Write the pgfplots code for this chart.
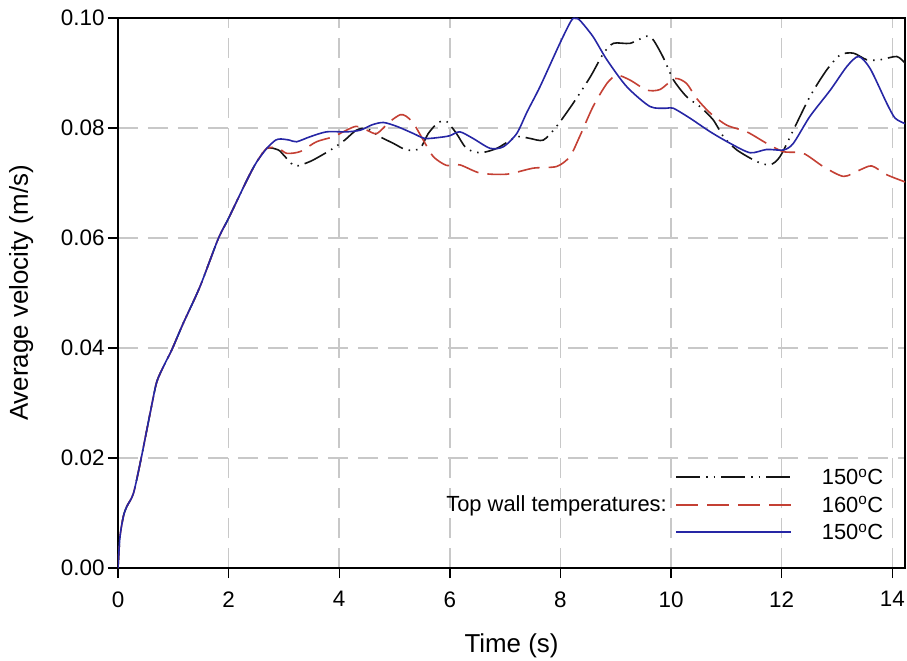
\documentclass[border=0pt]{standalone}
\usepackage{fontspec}
\setmainfont{Liberation Sans}
\usepackage{pgfplots}
\pgfplotsset{compat=1.18}

\definecolor{curveblue}{RGB}{38,38,165}
\definecolor{curvered}{RGB}{196,64,52}
\definecolor{curveblack}{RGB}{20,20,20}
\definecolor{gridgray}{RGB}{200,200,200}

\begin{document}
\begin{tikzpicture}
\begin{axis}[
  name=ax,
  scale only axis,
  width=787bp, height=550bp,
  xmin=0, xmax=14.23,
  ymin=0, ymax=0.1,
  xtick={0,2,4,6,8,10,12,14},
  ytick={0,0.02,0.04,0.06,0.08,0.1},
  scaled y ticks=false,
  /pgf/number format/assume math mode=true,
  yticklabel style={/pgf/number format/.cd, fixed, fixed zerofill, precision=2},
  tick label style={font=\fontsize{22.5}{26}\selectfont},
  xticklabel style={yshift=-10bp},
  tick pos=left,
  tick align=outside,
  major tick length=10bp,
  tick style={black, line width=1.4bp},
  axis line style={black, line width=1.4bp},
  grid=major,
  major grid style={gridgray, line width=1.5bp, dash pattern=on 20bp off 10bp},
  xlabel={Time (s)},
  ylabel={Average velocity (m/s)},
  label style={font=\fontsize{26}{30}\selectfont},
  xlabel style={at={(axis description cs:0.5,-0.1545)}, anchor=base},
  ylabel style={at={(axis description cs:-0.1144,0.5)}, anchor=base, rotate=0},
  legend image code/.code={\draw[#1] (0bp,0bp) -- (115bp,0bp);},
  legend cell align=left,
  legend style={draw=none, fill=none, inner sep=0pt,
    at={(rel axis cs:0.7078,0.1795)}, anchor=north west,
    font=\fontsize{22}{26}\selectfont,
    nodes={inner sep=0pt, text height=15.5bp, text depth=0bp},
    row sep=12bp, column sep=30bp},
]

% dash-dot-dot run
\addplot[curveblack, line width=1.6bp, smooth, tension=0.45,
  dash pattern=on 24bp off 6bp on 1.5bp off 6bp on 1.5bp off 6bp]
  coordinates {
  (0,0) (0.036,0.0057) (0.1,0.0095) (0.16,0.0112) (0.28,0.0136) (0.42,0.020)
  (0.58,0.0281) (0.7,0.0338) (0.85,0.0372) (0.97,0.0396) (1.18,0.0445)
  (1.48,0.0511) (1.81,0.0598) (2.0,0.0636) (2.33,0.0705) (2.5,0.0737) (2.69,0.0763)
  (2.9,0.076) (3.02,0.0748) (3.2,0.0731) (3.47,0.0739) (3.71,0.0752) (3.89,0.0763)
  (4.1,0.0778) (4.31,0.0796) (4.5,0.0799) (4.74,0.0784) (4.98,0.0772) (5.22,0.076)
  (5.46,0.0763) (5.61,0.079) (5.79,0.081) (5.94,0.0812) (6.12,0.079) (6.3,0.0763)
  (6.55,0.0755) (6.85,0.0763) (7.21,0.0784) (7.45,0.0781) (7.69,0.0778) (7.93,0.0803)
  (8.23,0.0845) (8.54,0.0893) (8.78,0.0936) (8.96,0.0954) (9.26,0.0954) (9.56,0.0967)
  (9.68,0.096) (9.86,0.0928) (10.04,0.0888) (10.28,0.0857) (10.52,0.0839) (10.76,0.0815)
  (10.95,0.0784) (11.19,0.076) (11.55,0.0739) (11.79,0.0733) (11.97,0.0748) (12.21,0.0796)
  (12.51,0.0857) (12.81,0.0905) (13.06,0.0933) (13.3,0.0936) (13.54,0.0924) (13.78,0.0924)
  (14.08,0.093) (14.23,0.0918)
  };
\addlegendentry{150\textsuperscript{o}C}

% dashed run
\addplot[curvered, line width=1.6bp, smooth, tension=0.45,
  dash pattern=on 22bp off 9bp]
  coordinates {
  (0,0) (0.036,0.0057) (0.1,0.0095) (0.16,0.0112) (0.28,0.0136) (0.42,0.020)
  (0.58,0.0281) (0.7,0.0338) (0.85,0.0372) (0.97,0.0396) (1.18,0.0445)
  (1.48,0.0511) (1.81,0.0598) (2.0,0.0636) (2.33,0.0705) (2.5,0.0737) (2.69,0.0763)
  (2.9,0.0763) (3.05,0.0754) (3.29,0.0757) (3.59,0.0775) (3.89,0.0784) (4.13,0.0796)
  (4.31,0.0803) (4.5,0.0796) (4.68,0.079) (4.92,0.0812) (5.1,0.0824) (5.2,0.0822)
  (5.34,0.0809) (5.52,0.0778) (5.7,0.0748) (5.94,0.0732) (6.18,0.0733) (6.55,0.0718)
  (7.03,0.0716) (7.51,0.0727) (7.93,0.073) (8.17,0.0748) (8.35,0.0785) (8.59,0.0839)
  (8.84,0.0881) (9.02,0.0896) (9.26,0.0887) (9.56,0.0869) (9.8,0.087) (10.07,0.089)
  (10.28,0.0881) (10.46,0.0854) (10.71,0.0827) (11.01,0.0805) (11.37,0.0793)
  (11.73,0.0772) (12.03,0.0757) (12.39,0.0754) (12.75,0.073) (13.12,0.0712)
  (13.42,0.0724) (13.63,0.0731) (13.9,0.0715) (14.23,0.0702)
  };
\addlegendentry{160\textsuperscript{o}C}

% solid run
\addplot[curveblue, line width=1.6bp, smooth, tension=0.45]
  coordinates {
  (0,0) (0.036,0.0057) (0.1,0.0095) (0.16,0.0112) (0.28,0.0136) (0.42,0.020)
  (0.58,0.0281) (0.7,0.0338) (0.85,0.0372) (0.97,0.0396) (1.18,0.0445)
  (1.48,0.0511) (1.81,0.0598) (2.0,0.0636) (2.33,0.0705) (2.5,0.0737) (2.69,0.0763)
  (2.85,0.0778) (2.95,0.078) (3.1,0.0778) (3.23,0.0775) (3.47,0.0784) (3.77,0.0793)
  (4.13,0.0793) (4.38,0.0796) (4.6,0.0806) (4.8,0.081) (5.04,0.0803) (5.34,0.079)
  (5.55,0.0781) (5.82,0.0783) (6.0,0.0786) (6.18,0.0793) (6.42,0.0781) (6.73,0.0763)
  (6.97,0.0766) (7.21,0.079) (7.4,0.083) (7.63,0.0875) (7.99,0.0954) (8.2,0.0996)
  (8.28,0.0999) (8.35,0.0996) (8.59,0.0966) (8.84,0.0924) (9.2,0.0875) (9.62,0.0839)
  (9.92,0.0836) (10.04,0.0836) (10.34,0.0818) (10.71,0.0793) (11.07,0.0772)
  (11.43,0.0755) (11.73,0.0761) (12.03,0.076) (12.21,0.0772) (12.51,0.0821)
  (12.88,0.0869) (13.18,0.0912) (13.39,0.093) (13.6,0.0908) (13.9,0.0845)
  (14.05,0.0818) (14.23,0.0808)
  };
\addlegendentry{150\textsuperscript{o}C}

\node[anchor=east, inner sep=0pt, text height=15.5bp, text depth=0bp,
  font=\fontsize{22}{26}\selectfont]
  at (rel axis cs:0.6976,0.1164) {Top wall temperatures:};
\end{axis}
\pgfresetboundingbox
\path[use as bounding box] ([shift={(-118bp,-93bp)}]ax.south west)
  rectangle ([shift={(2bp,18bp)}]ax.north east);
\end{tikzpicture}
\end{document}
